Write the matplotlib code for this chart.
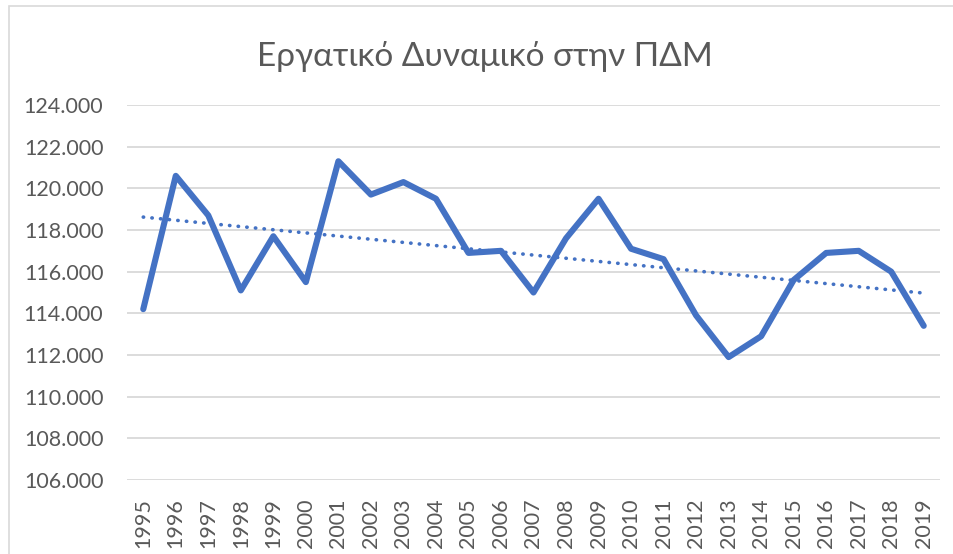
import numpy as np
import matplotlib
matplotlib.use('Agg')
import matplotlib.pyplot as plt
from matplotlib.ticker import FuncFormatter
from matplotlib.patches import Rectangle

# data
years = [str(y) for y in range(1995, 2020)]
workforce = [114.2, 120.6, 118.7, 115.1, 117.7, 115.5, 121.3, 119.7, 120.3, 119.5,
             116.9, 117.0, 115.0, 117.6, 119.5, 117.1, 116.6, 113.9, 111.9, 112.9,
             115.6, 116.9, 117.0, 116.0, 113.4]
yticks = [106, 108, 110, 112, 114, 116, 118, 120, 122, 124]
title = 'Εργατικό Δυναμικό στην ΠΔΜ'

plt.rcParams['font.family'] = ['Lato', 'DejaVu Sans']

blue = '#4472C4'
grey_text = '#595959'

fig = plt.figure(figsize=(9.54, 5.54), dpi=100)
ax = fig.add_axes([127 / 954, 1 - 480 / 554, (940 - 127) / 954, (480 - 105) / 554])

x = np.arange(len(years))
ax.plot(x, workforce, color=blue, lw=4.4, solid_joinstyle='round', solid_capstyle='round', zorder=3)

# linear trend line (like Excel's)
k, b = np.polyfit(x, workforce, 1)
ax.plot(x, k * x + b, color=blue, lw=2.6, linestyle=(0, (0.1, 2.3)),
        dash_capstyle='round', zorder=2)

ax.set_xlim(-0.5, len(years) - 0.5)
ax.set_ylim(106, 124)
ax.set_yticks(yticks)
ax.yaxis.set_major_formatter(FuncFormatter(lambda v, p: '{:.3f}'.format(v)))
ax.grid(axis='y', color='#D9D9D9', lw=1.3)
ax.set_axisbelow(True)
for s in ax.spines.values():
    s.set_visible(False)

ax.set_xticks(x)
ax.set_xticklabels(years, rotation=90, va='top')
ax.tick_params(axis='both', length=0, labelsize=15.5, colors=grey_text)
ax.tick_params(axis='y', pad=17)
ax.tick_params(axis='x', pad=13)

fig.text(485 / 954, 1 - 56 / 554, title, ha='center', va='center', fontsize=24,
         color=grey_text)

# chart area border (cropped at right/bottom in the reference)
fig.patches.append(Rectangle((9 / 954, -0.1), 1.2, 1 - 6 / 554 + 0.1,
                             transform=fig.transFigure, fill=False,
                             edgecolor='#D9D9D9', lw=1.2))

fig.savefig('out.png', dpi=100)
